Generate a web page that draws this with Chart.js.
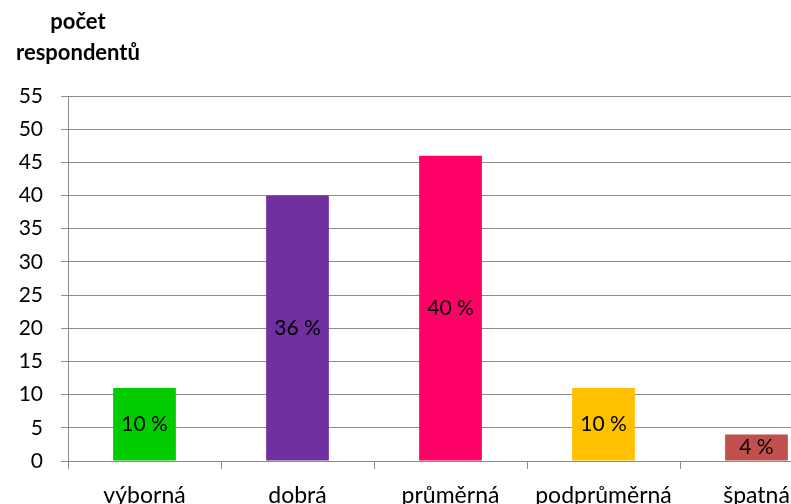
<!DOCTYPE html>
<html><head><meta charset="utf-8">
<script src="https://cdn.jsdelivr.net/npm/chart.js@4"></script>
<style>
html,body{margin:0;padding:0;overflow:hidden;background:#fff;}
#wrap{position:relative;width:833px;height:504px;}
</style></head>
<body>
<div id="wrap"><canvas id="c"></canvas></div>
<script>
const categories = ['výborná','dobrá','průměrná','podprůměrná','špatná'];
const respondents = [11, 40, 46, 11, 4];
const percentLabels = ['10 %','36 %','40 %','10 %','4 %'];
const barColors = ['#00CC00','#7030A0','#FF0066','#FFC000','#C0504D'];
const axisTitleLines = ['počet','respondentů'];
const FONT = 'Lato, "DejaVu Sans", sans-serif';
const GRID = '#8c8c8c';

const labelPlugin = {
  id:'barLabels',
  afterDatasetsDraw(chart){
    const ctx = chart.ctx;
    const meta = chart.getDatasetMeta(0);
    ctx.save();
    ctx.font = '21px ' + FONT;
    ctx.fillStyle = '#000';
    ctx.textAlign = 'center';
    ctx.textBaseline = 'middle';
    meta.data.forEach((bar,i)=>{
      const y = (bar.y + bar.base)/2;
      ctx.fillText(percentLabels[i], bar.x, y);
    });
    ctx.restore();
  }
};
const titlePlugin = {
  id:'yTitle',
  afterDraw(chart){
    const ctx = chart.ctx;
    ctx.save();
    ctx.font = 'bold 22px ' + FONT;
    ctx.fillStyle = '#000';
    ctx.textAlign = 'center';
    ctx.textBaseline = 'alphabetic';
    ctx.fillText(axisTitleLines[0], 78, 29);
    ctx.fillText(axisTitleLines[1], 78, 60);
    ctx.restore();
  }
};

new Chart(document.getElementById('c'), {
  type:'bar',
  data:{labels:categories, datasets:[{data:respondents, backgroundColor:barColors, borderWidth:0,
    categoryPercentage:1, barPercentage:0.41}]},
  options:{
    responsive:true, maintainAspectRatio:false, animation:false,
    layout:{padding:{top:96,left:0,right:0,bottom:0}},
    plugins:{legend:{display:false}, tooltip:{enabled:false}},
    scales:{
      x:{
        grid:{display:true, drawOnChartArea:false, drawTicks:true, tickLength:8, color:GRID, offset:true},
        border:{display:true, color:GRID, width:1},
        ticks:{font:{family:FONT,size:23}, color:'#000', padding:13, maxRotation:0, autoSkip:false},
        afterFit(s){ s.height = 43; }
      },
      y:{
        min:0, max:55,
        ticks:{stepSize:5, font:{family:FONT,size:21}, color:'#000', padding:18},
        grid:{color:GRID, tickLength:7, drawTicks:true},
        border:{display:true, color:GRID, width:1},
        afterFit(s){ s.width = 68; }
      }
    }
  },
  plugins:[labelPlugin,titlePlugin]
});
</script>
</body></html>
